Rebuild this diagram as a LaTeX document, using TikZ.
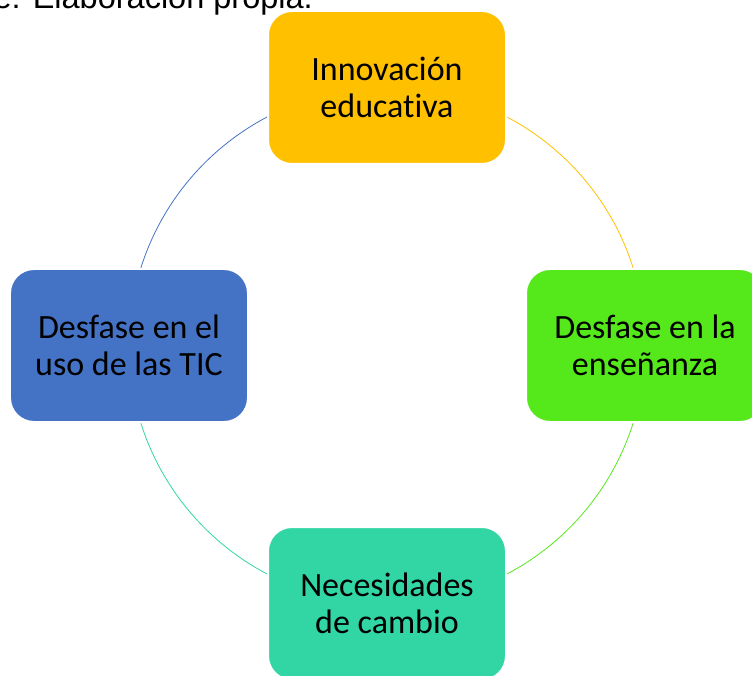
\documentclass[tikz,border=0pt]{standalone}
\usepackage{fontspec}
\setmainfont{Carlito}[Ligatures=NoCommon]
\newfontfamily\captionfont{Liberation Sans}
\usepackage{tikz}
\usepackage{xcolor}
\usetikzlibrary{shapes,backgrounds}

\definecolor{innov}{HTML}{FFC000}
\definecolor{ensen}{HTML}{55E81B}
\definecolor{cambio}{HTML}{31D6A4}
\definecolor{tic}{HTML}{4472C4}

\begin{document}
\begin{tikzpicture}[x=1pt,y=1pt,node distance=364.87pt,
                    main node/.style={rectangle,rounded corners=24pt,draw=white,line width=2pt,
                      minimum width=238pt,minimum height=153pt,inner sep=0pt,align=center,
                      font=\fontsize{34}{37.5}\selectfont},
                    ring/.style={line width=0.8pt}]
  \useasboundingbox (0,0) rectangle (752,675);

  \node[anchor=base west,font=\captionfont\fontsize{32.5}{36}\selectfont] (src) at (-93,666) {Fuente: Elaboración propia.};

  \node[main node,fill=innov] (1) at (387,587.5) {Innovación\\educativa};
  \node[main node,fill=ensen] (2) [below right of=1] {Desfase en la\\enseñanza};
  \node[main node,fill=cambio] (3) [below left of=2] {Necesidades\\de cambio};
  \node[main node,fill=tic] (4) [above left of=3] {Desfase en el\\uso de las TIC};

  % cycle arcs behind the boxes
  \begin{scope}[on background layer]
    \draw[ring,innov]  (1.center) arc[start angle=90,end angle=0,radius=258pt];
    \draw[ring,ensen]  (2.center) arc[start angle=0,end angle=-90,radius=258pt];
    \draw[ring,cambio] (3.center) arc[start angle=-90,end angle=-180,radius=258pt];
    \draw[ring,tic]    (4.center) arc[start angle=180,end angle=90,radius=258pt];
  \end{scope}
\end{tikzpicture}
\end{document}
